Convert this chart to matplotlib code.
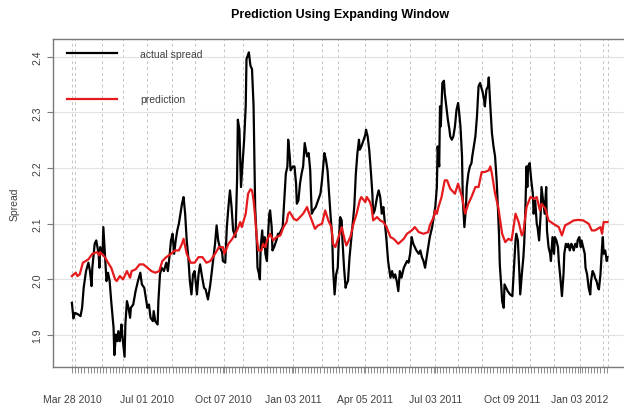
import matplotlib.pyplot as plt
import pandas as pd

# actual spread (black) and expanding-window prediction (red)
black_dates = [
    '2010-03-28', '2010-03-30', '2010-04-01', '2010-04-05', '2010-04-08', '2010-04-10', '2010-04-12', '2010-04-15', '2010-04-18', '2010-04-20',
    '2010-04-22', '2010-04-23', '2010-04-26', '2010-04-28', '2010-05-01', '2010-05-02', '2010-05-03', '2010-05-06', '2010-05-07', '2010-05-09',
    '2010-05-11', '2010-05-13', '2010-05-15', '2010-05-17', '2010-05-20', '2010-05-21', '2010-05-23', '2010-05-25', '2010-05-26', '2010-05-28',
    '2010-05-30', '2010-05-31', '2010-06-03', '2010-06-04', '2010-06-06', '2010-06-08', '2010-06-10', '2010-06-11', '2010-06-14', '2010-06-17',
    '2010-06-20', '2010-06-23', '2010-06-25', '2010-06-28', '2010-06-30', '2010-07-02', '2010-07-04', '2010-07-06', '2010-07-09', '2010-07-10',
    '2010-07-12', '2010-07-15', '2010-07-16', '2010-07-18', '2010-07-20', '2010-07-23', '2010-07-26', '2010-07-28', '2010-07-30', '2010-08-01',
    '2010-08-03', '2010-08-05', '2010-08-07', '2010-08-09', '2010-08-11', '2010-08-13', '2010-08-15', '2010-08-17', '2010-08-19', '2010-08-21',
    '2010-08-23', '2010-08-25', '2010-08-27', '2010-08-29', '2010-08-31', '2010-09-03', '2010-09-05', '2010-09-07', '2010-09-09', '2010-09-12',
    '2010-09-14', '2010-09-17', '2010-09-20', '2010-09-22', '2010-09-24', '2010-09-26', '2010-09-28', '2010-09-30', '2010-10-02', '2010-10-05',
    '2010-10-06', '2010-10-09', '2010-10-11', '2010-10-13', '2010-10-15', '2010-10-17', '2010-10-19', '2010-10-22', '2010-10-24', '2010-10-25',
    '2010-10-27', '2010-10-29', '2010-10-31', '2010-11-02', '2010-11-04', '2010-11-05', '2010-11-08', '2010-11-10', '2010-11-12', '2010-11-14',
    '2010-11-15', '2010-11-16', '2010-11-18', '2010-11-19', '2010-11-21', '2010-11-22', '2010-11-23', '2010-11-25', '2010-11-26', '2010-11-28',
    '2010-11-29', '2010-12-01', '2010-12-02', '2010-12-04', '2010-12-05', '2010-12-07', '2010-12-08', '2010-12-10', '2010-12-13', '2010-12-15',
    '2010-12-17', '2010-12-19', '2010-12-21', '2010-12-23', '2010-12-25', '2010-12-27', '2010-12-28', '2010-12-30', '2010-12-31', '2011-01-03',
    '2011-01-05', '2011-01-07', '2011-01-08', '2011-01-10', '2011-01-12', '2011-01-14', '2011-01-16', '2011-01-18', '2011-01-21', '2011-01-23',
    '2011-01-25', '2011-01-26', '2011-01-27', '2011-01-29', '2011-02-01', '2011-02-04', '2011-02-07', '2011-02-09', '2011-02-12', '2011-02-14',
    '2011-02-16', '2011-02-18', '2011-02-20', '2011-02-22', '2011-02-23', '2011-02-25', '2011-02-27', '2011-03-01', '2011-03-02', '2011-03-04',
    '2011-03-06', '2011-03-07', '2011-03-09', '2011-03-11', '2011-03-12', '2011-03-14', '2011-03-16', '2011-03-18', '2011-03-20', '2011-03-22',
    '2011-03-24', '2011-03-26', '2011-03-28', '2011-03-29', '2011-03-31', '2011-04-03', '2011-04-05', '2011-04-06', '2011-04-08', '2011-04-10',
    '2011-04-12', '2011-04-14', '2011-04-15', '2011-04-17', '2011-04-20', '2011-04-22', '2011-04-24', '2011-04-26', '2011-04-28', '2011-04-30',
    '2011-05-02', '2011-05-04', '2011-05-07', '2011-05-09', '2011-05-11', '2011-05-13', '2011-05-15', '2011-05-17', '2011-05-19', '2011-05-21',
    '2011-05-24', '2011-05-26', '2011-05-28', '2011-05-30', '2011-06-01', '2011-06-03', '2011-06-05', '2011-06-07', '2011-06-09', '2011-06-12',
    '2011-06-14', '2011-06-16', '2011-06-18', '2011-06-20', '2011-06-22', '2011-06-24', '2011-06-26', '2011-06-29', '2011-07-01', '2011-07-03',
    '2011-07-05', '2011-07-06', '2011-07-08', '2011-07-09', '2011-07-10', '2011-07-12', '2011-07-14', '2011-07-15', '2011-07-17', '2011-07-19',
    '2011-07-21', '2011-07-22', '2011-07-24', '2011-07-26', '2011-07-28', '2011-07-30', '2011-08-01', '2011-08-02', '2011-08-04', '2011-08-06',
    '2011-08-07', '2011-08-09', '2011-08-11', '2011-08-12', '2011-08-14', '2011-08-16', '2011-08-18', '2011-08-19', '2011-08-21', '2011-08-23',
    '2011-08-25', '2011-08-27', '2011-08-29', '2011-08-30', '2011-09-01', '2011-09-03', '2011-09-04', '2011-09-06', '2011-09-08', '2011-09-09',
    '2011-09-11', '2011-09-13', '2011-09-15', '2011-09-17', '2011-09-19', '2011-09-20', '2011-09-22', '2011-09-23', '2011-09-25', '2011-09-26',
    '2011-09-28', '2011-09-29', '2011-10-01', '2011-10-03', '2011-10-06', '2011-10-09', '2011-10-11', '2011-10-13', '2011-10-14', '2011-10-16',
    '2011-10-18', '2011-10-19', '2011-10-21', '2011-10-23', '2011-10-24', '2011-10-25', '2011-10-27', '2011-10-28', '2011-10-29', '2011-10-31',
    '2011-11-02', '2011-11-04', '2011-11-05', '2011-11-07', '2011-11-09', '2011-11-10', '2011-11-12', '2011-11-14', '2011-11-15', '2011-11-17',
    '2011-11-19', '2011-11-21', '2011-11-22', '2011-11-24', '2011-11-26', '2011-11-27', '2011-11-29', '2011-12-01', '2011-12-02', '2011-12-04',
    '2011-12-06', '2011-12-07', '2011-12-09', '2011-12-11', '2011-12-13', '2011-12-14', '2011-12-16', '2011-12-18', '2011-12-19', '2011-12-21',
    '2011-12-23', '2011-12-24', '2011-12-26', '2011-12-28', '2011-12-30', '2011-12-31', '2012-01-02', '2012-01-04', '2012-01-05', '2012-01-07',
    '2012-01-09', '2012-01-10', '2012-01-12', '2012-01-14', '2012-01-16', '2012-01-17', '2012-01-19', '2012-01-21', '2012-01-22', '2012-01-24',
    '2012-01-26', '2012-01-27', '2012-01-29', '2012-01-31', '2012-02-01', '2012-02-02', '2012-02-04', '2012-02-06', '2012-02-07',
]
black_values = [
    1.958, 1.930, 1.940, 1.937, 1.934, 1.949, 1.985, 2.015, 2.030, 2.015,
    1.988, 2.021, 2.064, 2.070, 2.046, 2.021, 2.058, 2.046, 2.094, 2.046,
    1.997, 2.012, 1.997, 1.961, 1.913, 1.864, 1.901, 1.889, 1.907, 1.889,
    1.919, 1.901, 1.861, 1.919, 1.961, 1.949, 1.931, 1.949, 1.955, 1.979,
    1.997, 2.012, 1.991, 1.985, 1.967, 1.949, 1.955, 1.931, 1.925, 1.943,
    1.925, 1.919, 1.961, 2.009, 2.021, 2.015, 2.030, 2.015, 2.040, 2.070,
    2.082, 2.046, 2.070, 2.088, 2.100, 2.118, 2.136, 2.148, 2.118, 2.070,
    2.040, 1.997, 1.973, 2.009, 2.015, 1.973, 2.009, 2.027, 2.009, 1.985,
    1.982, 1.964, 1.991, 2.015, 2.040, 2.064, 2.097, 2.070, 2.058, 2.049,
    2.033, 2.030, 2.094, 2.130, 2.160, 2.130, 2.088, 2.076, 2.178, 2.287,
    2.269, 2.166, 2.208, 2.251, 2.311, 2.396, 2.408, 2.384, 2.378, 2.311,
    2.221, 2.130, 2.070, 2.021, 2.009, 2.000, 2.058, 2.088, 2.058, 2.076,
    2.046, 2.033, 2.070, 2.118, 2.124, 2.094, 2.052, 2.058, 2.070, 2.082,
    2.082, 2.088, 2.094, 2.142, 2.190, 2.203, 2.251, 2.221, 2.196, 2.203,
    2.203, 2.172, 2.136, 2.142, 2.172, 2.190, 2.203, 2.245, 2.221, 2.227,
    2.196, 2.154, 2.118, 2.124, 2.130, 2.142, 2.154, 2.178, 2.227, 2.215,
    2.196, 2.154, 2.112, 2.076, 2.021, 1.973, 2.009, 2.021, 2.058, 2.112,
    2.106, 2.070, 2.021, 1.985, 1.991, 1.997, 2.040, 2.070, 2.100, 2.130,
    2.190, 2.227, 2.251, 2.233, 2.239, 2.251, 2.260, 2.269, 2.257, 2.233,
    2.196, 2.154, 2.118, 2.124, 2.148, 2.160, 2.148, 2.118, 2.130, 2.100,
    2.070, 2.033, 2.003, 2.015, 2.003, 2.009, 1.997, 1.979, 2.015, 2.003,
    2.021, 2.027, 2.033, 2.030, 2.046, 2.076, 2.064, 2.058, 2.052, 2.046,
    2.052, 2.040, 2.033, 2.021, 2.040, 2.058, 2.076, 2.094, 2.112, 2.130,
    2.166, 2.239, 2.203, 2.311, 2.275, 2.353, 2.357, 2.335, 2.311, 2.287,
    2.269, 2.257, 2.251, 2.257, 2.275, 2.305, 2.317, 2.305, 2.275, 2.221,
    2.142, 2.094, 2.130, 2.166, 2.190, 2.203, 2.209, 2.221, 2.239, 2.257,
    2.293, 2.347, 2.353, 2.347, 2.338, 2.323, 2.311, 2.341, 2.347, 2.363,
    2.311, 2.263, 2.239, 2.221, 2.178, 2.148, 2.082, 2.027, 1.985, 1.961,
    1.949, 1.991, 1.985, 1.979, 1.973, 1.970, 2.021, 2.070, 2.082, 2.070,
    2.009, 1.973, 2.009, 2.040, 2.064, 2.100, 2.203, 2.166, 2.203, 2.209,
    2.178, 2.154, 2.118, 2.142, 2.100, 2.094, 2.070, 2.118, 2.166, 2.142,
    2.118, 2.166, 2.088, 2.058, 2.046, 2.033, 2.076, 2.046, 2.076, 2.070,
    2.058, 2.033, 2.003, 1.970, 2.009, 2.046, 2.064, 2.058, 2.064, 2.052,
    2.064, 2.061, 2.052, 2.064, 2.058, 2.070, 2.076, 2.058, 2.070, 2.058,
    2.046, 2.021, 2.009, 1.985, 1.973, 1.997, 2.015, 2.009, 2.003, 1.997,
    1.985, 1.982, 2.009, 2.058, 2.076, 2.046, 2.052, 2.033, 2.040,
]

red_dates = [
    '2010-03-28', '2010-04-02', '2010-04-04', '2010-04-07', '2010-04-11', '2010-04-18', '2010-04-23', '2010-04-29', '2010-05-02', '2010-05-03',
    '2010-05-09', '2010-05-13', '2010-05-17', '2010-05-22', '2010-05-24', '2010-05-28', '2010-06-01', '2010-06-06', '2010-06-10', '2010-06-12',
    '2010-06-17', '2010-06-22', '2010-06-27', '2010-07-02', '2010-07-07', '2010-07-12', '2010-07-17', '2010-07-21', '2010-07-26', '2010-08-01',
    '2010-08-06', '2010-08-11', '2010-08-15', '2010-08-17', '2010-08-21', '2010-08-26', '2010-08-31', '2010-09-05', '2010-09-10', '2010-09-15',
    '2010-09-20', '2010-09-26', '2010-10-01', '2010-10-06', '2010-10-08', '2010-10-13', '2010-10-18', '2010-10-24', '2010-10-28', '2010-10-30',
    '2010-11-04', '2010-11-07', '2010-11-10', '2010-11-12', '2010-11-14', '2010-11-16', '2010-11-18', '2010-11-20', '2010-11-24', '2010-11-26',
    '2010-11-29', '2010-12-01', '2010-12-05', '2010-12-09', '2010-12-13', '2010-12-18', '2010-12-22', '2010-12-26', '2010-12-28', '2010-12-30',
    '2011-01-04', '2011-01-08', '2011-01-12', '2011-01-16', '2011-01-21', '2011-01-23', '2011-01-27', '2011-01-31', '2011-02-04', '2011-02-09',
    '2011-02-13', '2011-02-17', '2011-02-21', '2011-02-23', '2011-02-26', '2011-03-02', '2011-03-06', '2011-03-10', '2011-03-12', '2011-03-17',
    '2011-03-21', '2011-03-25', '2011-03-29', '2011-03-31', '2011-04-05', '2011-04-07', '2011-04-11', '2011-04-13', '2011-04-15', '2011-04-20',
    '2011-04-24', '2011-04-28', '2011-05-02', '2011-05-07', '2011-05-11', '2011-05-17', '2011-05-24', '2011-05-28', '2011-06-03', '2011-06-07',
    '2011-06-12', '2011-06-18', '2011-06-24', '2011-06-26', '2011-07-01', '2011-07-03', '2011-07-05', '2011-07-07', '2011-07-11', '2011-07-15',
    '2011-07-18', '2011-07-22', '2011-07-28', '2011-08-01', '2011-08-06', '2011-08-10', '2011-08-14', '2011-08-18', '2011-08-23', '2011-08-27',
    '2011-08-31', '2011-09-04', '2011-09-09', '2011-09-11', '2011-09-13', '2011-09-17', '2011-09-21', '2011-09-26', '2011-09-30', '2011-10-04',
    '2011-10-08', '2011-10-13', '2011-10-17', '2011-10-21', '2011-10-23', '2011-10-27', '2011-11-01', '2011-11-05', '2011-11-09', '2011-11-13',
    '2011-11-15', '2011-11-20', '2011-11-24', '2011-11-30', '2011-12-07', '2011-12-11', '2011-12-15', '2011-12-19', '2011-12-26', '2012-01-01',
    '2012-01-07', '2012-01-14', '2012-01-18', '2012-01-22', '2012-01-29', '2012-01-31', '2012-02-02', '2012-02-07',
]
red_values = [
    2.006, 2.012, 2.006, 2.009, 2.030, 2.036, 2.046, 2.049, 2.043, 2.049,
    2.040, 2.030, 2.021, 2.000, 1.997, 2.006, 2.000, 2.015, 2.003, 2.015,
    2.018, 2.027, 2.027, 2.021, 2.015, 2.012, 2.015, 2.033, 2.040, 2.046,
    2.052, 2.052, 2.064, 2.073, 2.046, 2.030, 2.030, 2.040, 2.040, 2.030,
    2.033, 2.046, 2.058, 2.058, 2.046, 2.064, 2.073, 2.088, 2.103, 2.094,
    2.118, 2.154, 2.162, 2.160, 2.142, 2.112, 2.076, 2.052, 2.052, 2.064,
    2.058, 2.070, 2.082, 2.070, 2.076, 2.079, 2.094, 2.103, 2.118, 2.121,
    2.109, 2.106, 2.112, 2.118, 2.130, 2.121, 2.106, 2.091, 2.097, 2.100,
    2.124, 2.106, 2.094, 2.064, 2.058, 2.076, 2.094, 2.070, 2.061, 2.076,
    2.100, 2.118, 2.142, 2.148, 2.139, 2.148, 2.139, 2.130, 2.106, 2.112,
    2.106, 2.103, 2.094, 2.076, 2.073, 2.064, 2.073, 2.082, 2.088, 2.094,
    2.085, 2.082, 2.085, 2.097, 2.112, 2.124, 2.118, 2.130, 2.148, 2.178,
    2.178, 2.163, 2.154, 2.172, 2.148, 2.118, 2.136, 2.148, 2.166, 2.166,
    2.193, 2.193, 2.196, 2.203, 2.190, 2.154, 2.130, 2.082, 2.067, 2.073,
    2.070, 2.118, 2.103, 2.079, 2.085, 2.130, 2.148, 2.145, 2.148, 2.124,
    2.136, 2.127, 2.106, 2.100, 2.094, 2.079, 2.097, 2.100, 2.106, 2.107,
    2.106, 2.100, 2.088, 2.088, 2.094, 2.082, 2.103, 2.103,
]

# labelled dates on the time axis and the dotted monthly guides
tick_dates = ['2010-03-28', '2010-07-01', '2010-10-07', '2011-01-03', '2011-04-05', '2011-07-03', '2011-10-09', '2012-01-03']
tick_labels = ['Mar 28 2010', 'Jul 01 2010', 'Oct 07 2010', 'Jan 03 2011', 'Apr 05 2011', 'Jul 03 2011', 'Oct 09 2011', 'Jan 03 2012']
guide_dates = ['2010-03-28', '2010-04-01', '2010-05-05', '2010-06-01', '2010-07-01', '2010-08-02', '2010-09-01', '2010-10-07',
               '2010-11-01', '2010-12-01', '2011-01-03', '2011-02-09', '2011-03-01', '2011-04-05', '2011-05-02', '2011-06-01',
               '2011-07-03', '2011-08-01', '2011-09-01', '2011-10-09', '2011-11-01', '2011-12-01', '2012-01-03', '2012-02-01',
               '2012-02-07']
y_ticks = [1.9, 2.0, 2.1, 2.2, 2.3, 2.4]

plt.rcParams['font.family'] = 'Liberation Sans'
axis_grey = '#7a7a7a'
text_grey = '#404040'

fig = plt.figure(figsize=(6.24, 4.10), dpi=100)
ax = fig.add_axes([53 / 624, 42 / 410, 575 / 624, 328 / 410])

for d in guide_dates:
    ax.axvline(pd.Timestamp(d), color='#c4c4c4', lw=0.7, ls=(0, (3, 3)), zorder=0)
for v in y_ticks:
    ax.axhline(v, color='#e2e2e2', lw=0.8, zorder=0)

ax.plot(pd.to_datetime(black_dates), black_values, color='black', lw=1.6, label='actual spread')
ax.plot(pd.to_datetime(red_dates), red_values, color='#e41a1c', lw=1.6, label='prediction')

ax.set_xlim(pd.Timestamp('2010-03-04'), pd.Timestamp('2012-03-04'))
ax.set_ylim(1.8426, 2.432)

ax.set_xticks(pd.to_datetime(tick_dates))
ax.set_xticklabels(tick_labels)
ax.set_xticks(pd.date_range(black_dates[0], black_dates[-1], freq='4D'), minor=True)
ax.tick_params(axis='x', which='both', length=4, width=0.6, color=axis_grey)
ax.tick_params(axis='x', which='major', pad=15.5, labelsize=7.5, labelcolor=text_grey)

ax.set_yticks(y_ticks)
ax.set_yticklabels(['1.9', '2.0', '2.1', '2.2', '2.3', '2.4'], rotation=90, va='center')
ax.tick_params(axis='y', length=4.3, width=0.8, color=axis_grey, pad=3.5, labelsize=7.5, labelcolor=text_grey)
ax.set_ylabel('Spread', fontsize=7.5, color=text_grey, labelpad=9)

for s in ax.spines.values():
    s.set_color(axis_grey)
    s.set_linewidth(1.0)

ax.legend(loc='upper left', bbox_to_anchor=(14 / 575, 1 - 10 / 328), borderaxespad=0, borderpad=0,
          frameon=False, handlelength=4.8, handletextpad=2.2, labelspacing=3.4, fontsize=7.5,
          labelcolor=text_grey)

# title centred over the plotting region
fig.text(340 / 624, 1 - 15 / 410, 'Prediction Using Expanding Window', ha='center', va='center',
         fontsize=9, fontweight='bold')

fig.savefig('out.png', dpi=100)
